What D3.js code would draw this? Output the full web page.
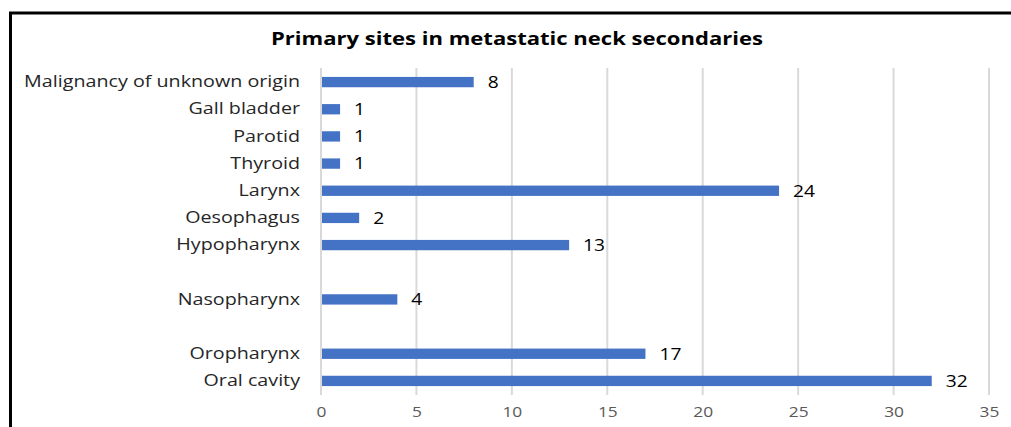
<!DOCTYPE html>
<html>
<head>
<meta charset="utf-8">
<script src="https://cdn.jsdelivr.net/npm/d3@7"></script>
<style>
  body { margin: 0; background: #fff; }
  svg { display: block; font-family: "Open Sans", "Noto Sans", sans-serif; }
</style>
</head>
<body>
<div id="chart"></div>
<script>
// top to bottom; empty strings are the blank rows in the original
const categories = ["Malignancy of unknown origin", "Gall bladder", "Parotid", "Thyroid",
  "Larynx", "Oesophagus", "Hypopharynx", "", "Nasopharynx", "", "Oropharynx", "Oral cavity"];
const values = [8, 1, 1, 1, 24, 2, 13, null, 4, null, 17, 32];
const xTicks = [0, 5, 10, 15, 20, 25, 30, 35];

const width = 1011, height = 427;
const margin = {top: 68, left: 321, right: 22, bottom: 32};
const K = 1.24; // the source image text is stretched sideways

// widen text horizontally around its own x anchor
function stretch(sel, k) {
  sel.each(function() {
    const t = d3.select(this);
    const x0 = +t.attr("x") || 0;
    t.attr("x", x0 / k).attr("transform", `scale(${k},1)`);
  });
}

const svg = d3.select("#chart").append("svg")
    .attr("width", width)
    .attr("height", height);

// frame
svg.append("rect")
    .attr("x", 10.5).attr("y", 13)
    .attr("width", width + 20).attr("height", height + 20)
    .attr("fill", "none")
    .attr("stroke", "#000")
    .attr("stroke-width", 3);

const title = svg.append("text")
    .attr("x", 517).attr("y", 45)
    .attr("text-anchor", "middle")
    .attr("font-size", 17.5)
    .attr("font-weight", "bold")
    .attr("fill", "#000")
    .text("Primary sites in metastatic neck secondaries");
stretch(title, 1.26);

const x = d3.scaleLinear().domain([0, 35]).range([margin.left, 989]);
const y = d3.scaleBand()
    .domain(d3.range(categories.length))
    .range([margin.top + 0.5, height - margin.bottom - 0.5])
    .paddingInner(0.62).paddingOuter(0.31);

const rows = categories.map((c, i) => ({c, v: values[i], i}));

// gridlines
svg.append("g")
    .selectAll("line")
    .data(xTicks)
    .join("line")
    .attr("x1", d => x(d)).attr("x2", d => x(d))
    .attr("y1", margin.top).attr("y2", height - margin.bottom)
    .attr("stroke", "#d9d9d9")
    .attr("stroke-width", 2);

const xAxis = d3.axisBottom(x).tickValues(xTicks).tickSize(0).tickPadding(12);
const gx = svg.append("g")
    .attr("transform", `translate(0,${height - margin.bottom})`)
    .call(xAxis);
gx.select(".domain").remove();
gx.selectAll("text")
    .attr("font-size", 14)
    .attr("font-family", "'Open Sans', sans-serif")
    .attr("fill", "#595959")
    .call(stretch, K);

const yAxis = d3.axisLeft(y).tickFormat(i => categories[i]).tickSize(0).tickPadding(21);
const gy = svg.append("g")
    .attr("transform", `translate(${margin.left},0)`)
    .call(yAxis);
gy.select(".domain").remove();
gy.selectAll("text")
    .attr("font-size", 15.9)
    .attr("font-family", "'Open Sans', sans-serif")
    .attr("fill", "#262626")
    .call(stretch, K);

const bars = rows.filter(d => d.v != null);

svg.append("g")
    .selectAll("rect")
    .data(bars)
    .join("rect")
    .attr("x", x(0) + 1)
    .attr("y", d => y(d.i))
    .attr("width", d => x(d.v) - x(0) - 1)
    .attr("height", y.bandwidth())
    .attr("fill", "#4472c4");

svg.append("g")
    .selectAll("text")
    .data(bars)
    .join("text")
    .attr("x", d => x(d.v) + 14)
    .attr("y", d => y(d.i) + y.bandwidth() / 2)
    .attr("dy", "0.38em")
    .attr("font-size", 15.5)
    .attr("fill", "#000")
    .text(d => d.v)
    .call(stretch, K);
</script>
</body>
</html>
